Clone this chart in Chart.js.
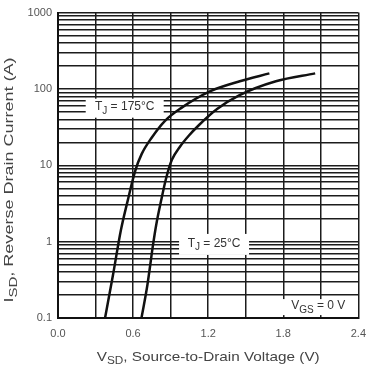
<!DOCTYPE html>
<html>
<head>
<meta charset="utf-8">
<script src="https://cdn.jsdelivr.net/npm/chart.js@4.4.0/dist/chart.umd.min.js"></script>
<style>
html, body { margin: 0; padding: 0; background: #fff; }
#wrap { width: 375px; height: 368px; }
</style>
</head>
<body>
<div id="wrap"><canvas id="diode_chart" width="375" height="368"></canvas></div>
<script>
// curve: TJ = 175 C
var vsd175 = [0.376, 0.439, 0.502, 0.557, 0.617, 0.669, 0.747, 0.853, 0.983, 1.218, 1.453, 1.689];
var isd175 = [0.1, 0.363, 1.4, 3.45, 8.48, 14.1, 22.8, 38, 56.1, 93.5, 126, 160];
// TJ = 25 C
var vsd25 = [0.667, 0.714, 0.761, 0.784, 0.824, 0.863, 0.910, 0.973, 1.043, 1.127, 1.271, 1.451, 1.741, 2.055];
var isd25 = [0.1, 0.269, 0.948, 1.63, 3.45, 6.67, 11.8, 17.4, 24.2, 33.7, 54.5, 82.9, 126, 160];

var xTicks = [0, 0.3, 0.6, 0.9, 1.2, 1.5, 1.8, 2.1, 2.4];
var xLabels = ['0.0', '', '0.6', '', '1.2', '', '1.8', '', '2.4'];
var decades = [0.1, 1, 10, 100, 1000];
var decadeLabels = ['0.1', '1', '10', '100', '1000'];

var FONT = '"Liberation Sans", Arial, sans-serif';
var canvas = document.getElementById('diode_chart').getContext('2d');

function toPoints(xs, ys) {
    var pts = [];
    for (var i = 0; i < xs.length; i++) {
        pts.push({x: xs[i], y: ys[i]});
    }
    return pts;
}

function logTicks() {
    var t = [];
    for (var d = 0; d < decades.length - 1; d++) {
        for (var m = 1; m < 10; m++) {
            t.push({value: decades[d] * m});
        }
    }
    t.push({value: decades[decades.length - 1]});
    return t;
}

// text with subscripts, parts = [[text, isSub], ...]
function partsWidth(ctx, parts, size) {
    var w = 0;
    parts.forEach(function (p) {
        ctx.font = (p[1] ? Math.round(size * 0.8) : size) + 'px ' + FONT;
        w += ctx.measureText(p[0]).width;
    });
    return w;
}

function drawParts(ctx, parts, size, cx, cy, rot, target) {
    var w = partsWidth(ctx, parts, size);
    var sx = target ? target / w : 1;
    ctx.save();
    ctx.translate(cx, cy);
    if (rot) ctx.rotate(-Math.PI / 2);
    ctx.scale(sx, 1);
    ctx.textBaseline = 'middle';
    ctx.textAlign = 'left';
    var x = -w / 2;
    parts.forEach(function (p) {
        ctx.font = (p[1] ? Math.round(size * 0.8) : size) + 'px ' + FONT;
        ctx.fillText(p[0], x, p[1] ? size * 0.35 : 0);
        x += ctx.measureText(p[0]).width;
    });
    ctx.restore();
}

function labelBox(chart, v, i, bw, bh, parts, size) {
    var ctx = chart.ctx;
    var cx = chart.scales.x.getPixelForValue(v);
    var cy = chart.scales.y.getPixelForValue(i);
    ctx.save();
    ctx.fillStyle = '#fff';
    ctx.fillRect(cx - bw / 2, cy - bh / 2, bw, bh);
    ctx.fillStyle = '#333';
    drawParts(ctx, parts, size, cx, cy - 1, false, 0);
    ctx.restore();
}

var textPlugin = {
    id: 'textPlugin',
    afterDraw: function (chart) {
        var ctx = chart.ctx;
        var area = chart.chartArea;
        ctx.save();
        ctx.fillStyle = '#444';
        drawParts(ctx, [['V', false], ['SD', true], [', Source-to-Drain Voltage (V)', false]], 13,
            (area.left + area.right) / 2, 357, false, 223);
        drawParts(ctx, [['I', false], ['SD', true], [', Reverse Drain Current (A)', false]], 12,
            10, 180, true, 245);
        ctx.restore();
        labelBox(chart, 0.533, 56, 78, 19, [['T', false], ['J', true], [' = 175\u00B0C', false]], 12);
        labelBox(chart, 1.247, 0.92, 70, 21, [['T', false], ['J', true], [' = 25\u00B0C', false]], 12);
        labelBox(chart, 2.08, 0.139, 74, 16, [['V', false], ['GS', true], [' = 0 V', false]], 12);
    }
};

var chartData = {
    datasets: [{
        label: 'TJ = 175',
        data: toPoints(vsd175, isd175),
        borderColor: '#111',
        borderWidth: 2.5,
        pointRadius: 0,
        fill: false,
        cubicInterpolationMode: 'monotone'
    }, {
        label: 'TJ = 25',
        data: toPoints(vsd25, isd25),
        borderColor: '#111',
        borderWidth: 2.5,
        pointRadius: 0,
        fill: false,
        cubicInterpolationMode: 'monotone'
    }]
};

var chartOptions = {
    responsive: false,
    animation: false,
    layout: {
        padding: {top: 11, right: 11, left: 0, bottom: 0}
    },
    plugins: {
        legend: {display: false},
        tooltip: {enabled: false}
    },
    scales: {
        x: {
            type: 'linear',
            min: 0,
            max: 2.4,
            afterBuildTicks: function (scale) {
                scale.ticks = xTicks.map(function (v) { return {value: v}; });
            },
            afterFit: function (scale) { scale.height = 50; },
            grid: {color: '#1c1c1c', lineWidth: 1.5, drawTicks: false},
            border: {color: '#111', width: 2},
            ticks: {
                padding: 9,
                color: '#555',
                font: {family: FONT, size: 11},
                maxRotation: 0,
                autoSkip: false,
                callback: function (value, index) { return xLabels[index]; }
            }
        },
        y: {
            type: 'logarithmic',
            min: 0.1,
            max: 1000,
            afterBuildTicks: function (scale) {
                scale.ticks = logTicks();
            },
            afterFit: function (scale) { scale.width = 58; },
            grid: {color: '#1c1c1c', lineWidth: 1.5, drawTicks: false},
            border: {color: '#111', width: 2},
            ticks: {
                padding: 6,
                color: '#555',
                font: {family: FONT, size: 11},
                autoSkip: false,
                callback: function (value) {
                    var k = decades.findIndex(function (d) { return Math.abs(d - value) < d * 1e-6; });
                    return k >= 0 ? decadeLabels[k] : '';
                }
            }
        }
    }
};

var chart = new Chart(canvas, {
    type: 'line',
    data: chartData,
    options: chartOptions,
    plugins: [textPlugin]
});
</script>
</body>
</html>
